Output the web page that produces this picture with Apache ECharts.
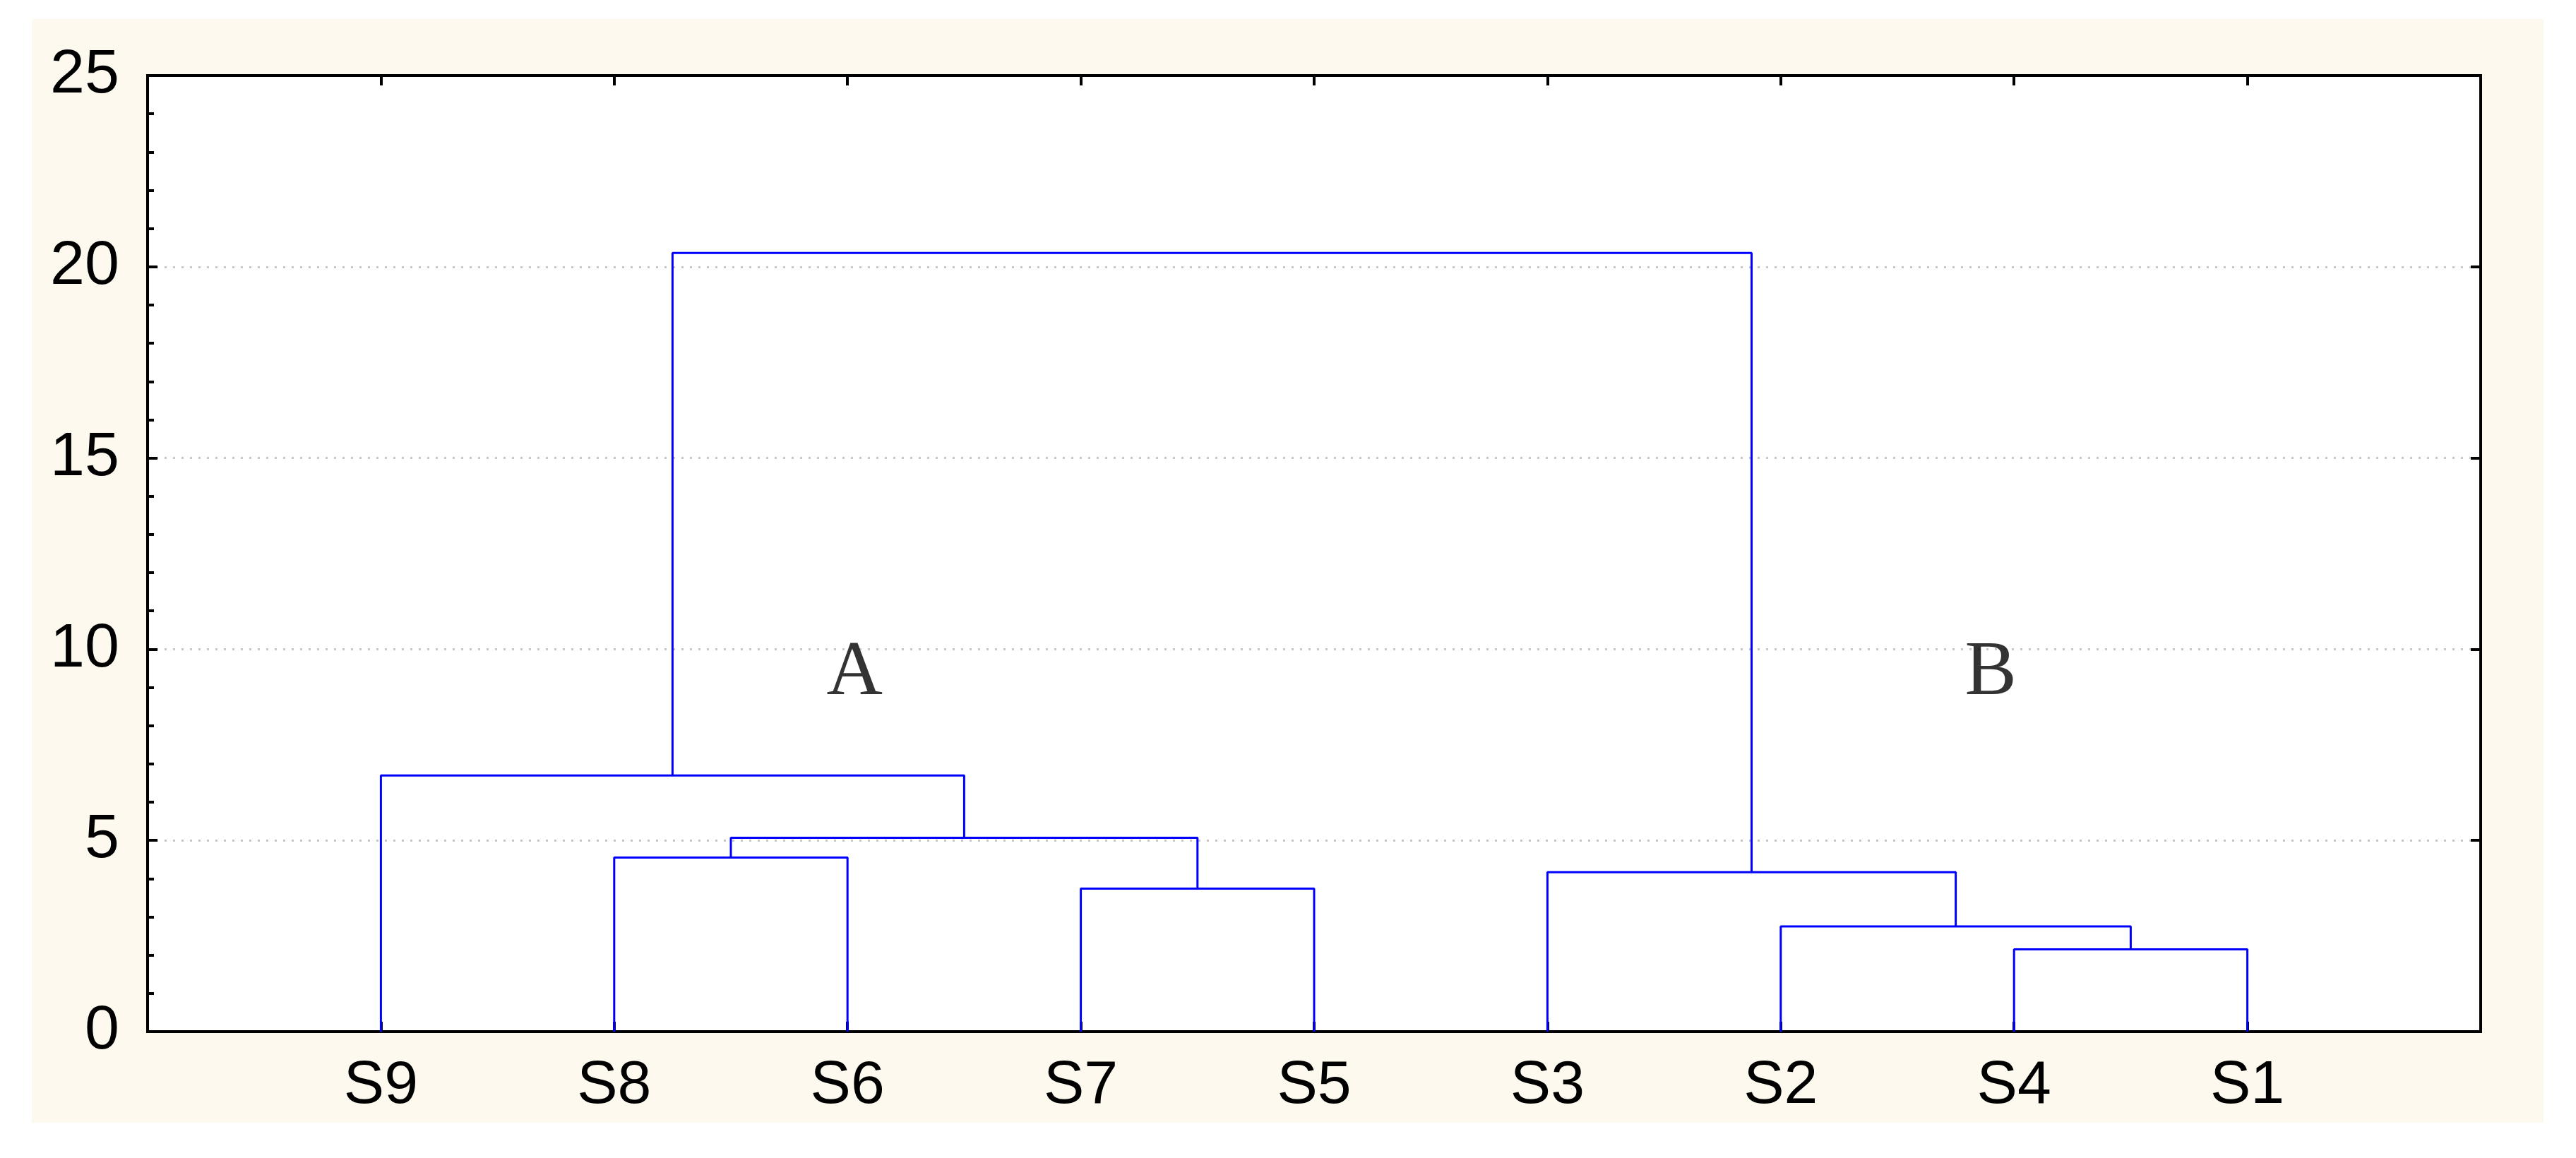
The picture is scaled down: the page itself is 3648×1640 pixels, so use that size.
<!DOCTYPE html>
<html><head><meta charset="utf-8">
<script src="https://cdn.jsdelivr.net/npm/echarts@6/dist/echarts.min.js"></script>
<style>html,body{margin:0;padding:0;background:#fff}#c{width:3648px;height:1640px}</style>
</head><body><div id="c"></div>
<script>
const leaves = ['S9','S8','S6','S7','S5','S3','S2','S4','S1'];
// merges: [left node, right node, height]; nodes 0..8 are leaves, 9+ are merges in order
const merges = [
  [7, 8, 2.15],   // 9: S4-S1
  [6, 9, 2.75],   // 10: S2-(S4,S1)
  [3, 4, 3.74],   // 11: S7-S5
  [5, 10, 4.17],  // 12: S3-...
  [1, 2, 4.55],   // 13: S8-S6
  [13, 11, 5.07], // 14
  [0, 14, 6.70],  // 15
  [15, 12, 20.36] // 16
];
const clusterLabels = [['A', 3.03, 9.36], ['B', 7.9, 9.36]];

const pos = leaves.map((_, i) => [i + 1, 0]);
const series = [];
merges.forEach(m => {
  const a = pos[m[0]], b = pos[m[1]], h = m[2];
  series.push({type:'line', data:[[a[0],a[1]],[a[0],h],[b[0],h],[b[0],b[1]]],
    symbol:'none', lineStyle:{color:'#0000ff', width:3}, silent:true, animation:false});
  pos.push([(a[0] + b[0]) / 2, h]);
});
series.push({type:'scatter', data: clusterLabels.map(c => [c[1], c[2], c[0]]), symbolSize:0,
  label:{show:true, formatter: p => p.data[2], fontFamily:'Liberation Serif', fontSize:110, color:'#000', position:'inside'},
  animation:false});

const chart = echarts.init(document.getElementById('c'));
const axisLine = {show:true, onZero:false, lineStyle:{color:'#000', width:4}};
const tick = {show:true, inside:true, length:14, lineStyle:{color:'#000', width:4}};
chart.setOption({
  backgroundColor:'#fff',
  graphic:[{type:'rect', shape:{x:45, y:27, width:3557, height:1563}, style:{fill:'#fdf9ee'}, z:-10}],
  grid:{left:209, right:135, top:107, bottom:179, show:true, backgroundColor:'#fff', borderWidth:4, borderColor:'#000'},
  xAxis:[
    {type:'value', min:0, max:10, interval:1, position:'bottom', axisLine, axisTick:tick,
     axisLabel:{margin:34, fontSize:86, fontFamily:'Liberation Sans', color:'#000',
       formatter: v => leaves[v - 1] || ''},
     splitLine:{show:false}},
    {type:'value', min:0, max:10, interval:1, position:'top', axisLine, axisTick:tick,
     axisLabel:{show:false}, splitLine:{show:false}}
  ],
  yAxis:[
    {type:'value', min:0, max:25, interval:5, position:'left', axisLine, axisTick:tick,
     minorTick:{show:true, splitNumber:5, length:9, lineStyle:{color:'#000', width:4}},
     axisLabel:{margin:40, fontSize:88, fontFamily:'Liberation Sans', color:'#000'},
     splitLine:{show:true, lineStyle:{color:'#c8c8c8', type:[3,9], width:3}}},
    {type:'value', min:0, max:25, interval:5, position:'right', axisLine, axisTick:tick,
     axisLabel:{show:false}, splitLine:{show:false}}
  ],
  series
});
</script></body></html>
